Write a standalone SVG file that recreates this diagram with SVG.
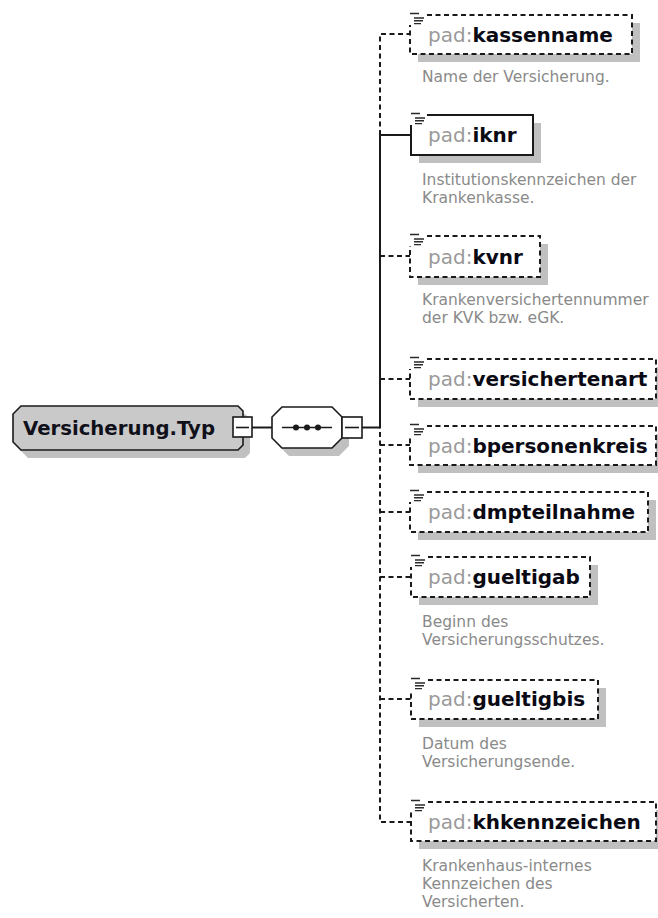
<svg xmlns="http://www.w3.org/2000/svg" width="658" height="918" viewBox="0 0 658 918">
<style>
.bg{fill:#ffffff}
.shadow{fill:#c0c0c0}
.box{fill:#ffffff;stroke:#1a1a1a;stroke-width:2}
.dash{stroke-dasharray:5,3.5}
.icon{stroke:#2a2a2a;stroke-width:1.4;fill:none}
.iconbg{fill:#ffffff}
.name{font-family:"DejaVu Sans",Verdana,sans-serif;font-size:20px}
.pfx{fill:#9a9a9a;font-weight:normal}
.nm{fill:#0a0a14;font-weight:bold}
.desc{font-family:"DejaVu Sans",Verdana,sans-serif;font-size:15.5px;fill:#8a8a8a}
.ln{stroke:#1a1a1a;stroke-width:2;fill:none}
.lnd{stroke:#1a1a1a;stroke-width:2;fill:none;stroke-dasharray:5,3.5}
.ctype{fill:#c9c9c9;stroke:#1a1a1a;stroke-width:1.6}
.seq{fill:#ffffff;stroke:#1a1a1a;stroke-width:1.6}
.pm{fill:#ffffff;stroke:#1a1a1a;stroke-width:1.6}
</style>
<defs>
<g id="elicon">
<rect class="iconbg" x="-1" y="-3" width="17" height="13"/>
<path class="icon" d="M0,-1.5 H9 M4,3 H14 M4,5.8 H13 M4,8.6 H11"/>
</g>
</defs>
<rect class="bg" x="0" y="0" width="658" height="918"/>

<g id="connectors">
<path class="ln" d="M252,427.5 H272"/>
<path class="ln" d="M362,427.5 H380"/>
<path class="ln" d="M380,135 V428.5"/>
<path class="ln" d="M380,135 H411"/>
<path class="lnd" d="M380,135 V34 H410"/>
<path class="lnd" d="M380,256 H410"/>
<path class="lnd" d="M380,379 H410"/>
<path class="lnd" d="M380,432 V822 H411"/>
<path class="lnd" d="M380,445 H410"/>
<path class="lnd" d="M380,512 H410"/>
<path class="lnd" d="M380,577 H411"/>
<path class="lnd" d="M380,699 H411"/>
</g>

<g id="versicherung-typ">
<polygon class="shadow" points="28,414 245,414 250,419 250,453 245,458 28,458 20,450 20,422"/>
<polygon class="ctype" points="21,406 238,406 243,411 243,445 238,450 21,450 13,442 13,414"/>
<text x="23" y="435" font-family="DejaVu Sans, Verdana, sans-serif" font-size="19.5" font-weight="bold" fill="#10101a" textLength="192" lengthAdjust="spacingAndGlyphs">Versicherung.Typ</text>
<rect class="pm" x="233" y="417" width="19" height="20"/>
<path class="ln" d="M236,427.5 H249" style="stroke-width:1.6"/>
</g>

<g id="sequence">
<polygon class="shadow" points="289,415 339,415 349,425 349,446 339,456 289,456 279,446 279,425"/>
<polygon class="seq" points="282,407 332,407 342,417 342,438 332,448 282,448 272,438 272,417"/>
<path class="ln" d="M282,427.5 H332" style="stroke-width:1.6"/>
<circle cx="296" cy="427.5" r="3" fill="#1a1a1a"/>
<circle cx="307" cy="427.5" r="3" fill="#1a1a1a"/>
<circle cx="318" cy="427.5" r="3" fill="#1a1a1a"/>
<rect class="pm" x="342" y="417" width="20" height="21"/>
<path class="ln" d="M345,427.5 H359" style="stroke-width:1.6"/>
</g>

<g id="el-kassenname">
<rect class="shadow" x="418" y="23" width="222" height="39"/>
<rect class="box dash" x="410" y="15" width="222" height="39"/>
<use href="#elicon" x="410" y="15"/>
<text class="name" x="428" y="42"><tspan class="pfx">pad:</tspan><tspan class="nm">kassenname</tspan></text>
<text class="desc" x="422" y="82">Name der Versicherung.</text>
</g>

<g id="el-iknr">
<rect class="shadow" x="419" y="123" width="122" height="40"/>
<rect class="box" x="411" y="115" width="122" height="40"/>
<use href="#elicon" x="411" y="115"/>
<text class="name" x="428" y="142"><tspan class="pfx">pad:</tspan><tspan class="nm">iknr</tspan></text>
<text class="desc" x="422" y="185">Institutionskennzeichen der</text>
<text class="desc" x="422" y="203.2">Krankenkasse.</text>
</g>

<g id="el-kvnr">
<rect class="shadow" x="418" y="244" width="130" height="41"/>
<rect class="box dash" x="410" y="236" width="130" height="41"/>
<use href="#elicon" x="410" y="236"/>
<text class="name" x="428" y="264"><tspan class="pfx">pad:</tspan><tspan class="nm">kvnr</tspan></text>
<text class="desc" x="422" y="305">Krankenversichertennummer</text>
<text class="desc" x="422" y="323.2">der KVK bzw. eGK.</text>
</g>

<g id="el-versichertenart">
<rect class="shadow" x="418" y="367" width="246" height="40"/>
<rect class="box dash" x="410" y="359" width="246" height="40"/>
<use href="#elicon" x="410" y="359"/>
<text class="name" x="428" y="386"><tspan class="pfx">pad:</tspan><tspan class="nm">versichertenart</tspan></text>
</g>

<g id="el-bpersonenkreis">
<rect class="shadow" x="418" y="434" width="246" height="39"/>
<rect class="box dash" x="410" y="426" width="246" height="39"/>
<use href="#elicon" x="410" y="426"/>
<text class="name" x="428" y="453"><tspan class="pfx">pad:</tspan><tspan class="nm">bpersonenkreis</tspan></text>
</g>

<g id="el-dmpteilnahme">
<rect class="shadow" x="418" y="500" width="238" height="40"/>
<rect class="box dash" x="410" y="492" width="238" height="40"/>
<use href="#elicon" x="410" y="492"/>
<text class="name" x="428" y="519"><tspan class="pfx">pad:</tspan><tspan class="nm">dmpteilnahme</tspan></text>
</g>

<g id="el-gueltigab">
<rect class="shadow" x="419" y="565" width="179" height="40"/>
<rect class="box dash" x="411" y="557" width="179" height="40"/>
<use href="#elicon" x="411" y="557"/>
<text class="name" x="428" y="584"><tspan class="pfx">pad:</tspan><tspan class="nm">gueltigab</tspan></text>
<text class="desc" x="422" y="627">Beginn des</text>
<text class="desc" x="422" y="645.2">Versicherungsschutzes.</text>
</g>

<g id="el-gueltigbis">
<rect class="shadow" x="419" y="688" width="187" height="39"/>
<rect class="box dash" x="411" y="680" width="187" height="39"/>
<use href="#elicon" x="411" y="680"/>
<text class="name" x="428" y="706"><tspan class="pfx">pad:</tspan><tspan class="nm">gueltigbis</tspan></text>
<text class="desc" x="422" y="749">Datum des</text>
<text class="desc" x="422" y="767.2">Versicherungsende.</text>
</g>

<g id="el-khkennzeichen">
<rect class="shadow" x="419" y="810" width="245" height="39"/>
<rect class="box dash" x="411" y="802" width="245" height="39"/>
<use href="#elicon" x="411" y="802"/>
<text class="name" x="428" y="829"><tspan class="pfx">pad:</tspan><tspan class="nm">khkennzeichen</tspan></text>
<text class="desc" x="422" y="871">Krankenhaus-internes</text>
<text class="desc" x="422" y="889.2">Kennzeichen des</text>
<text class="desc" x="422" y="907.4">Versicherten.</text>
</g>
</svg>
